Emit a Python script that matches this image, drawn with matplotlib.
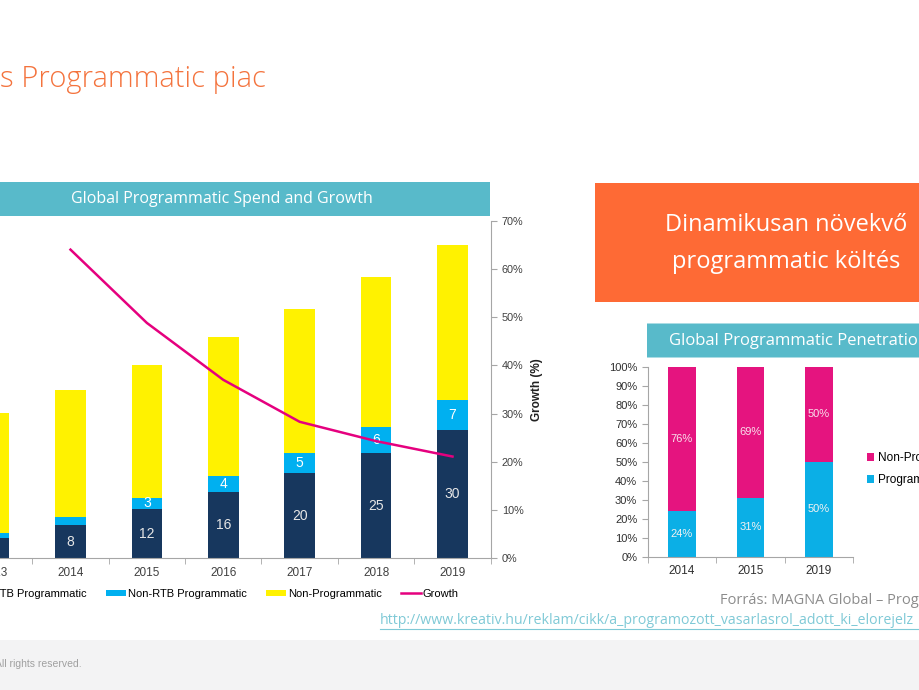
import matplotlib
matplotlib.use("Agg")
import matplotlib.pyplot as plt
from matplotlib.patches import Rectangle
from matplotlib.lines import Line2D
from matplotlib.ticker import PercentFormatter
import numpy as np

# Global Programmatic Spend and Growth (left chart)
years = ["2013", "2014", "2015", "2016", "2017", "2018", "2019"]
rtb = [4.7, 7.9, 11.6, 15.8, 20.1, 25.0, 30.4]
non_rtb = [1.2, 1.8, 2.8, 3.7, 4.9, 6.2, 7.1]
non_prog = [28.5, 30.2, 31.4, 33.0, 34.1, 35.4, 36.7]
growth_years = ["2014", "2015", "2016", "2017", "2018", "2019"]
growth = [64.0, 48.8, 37.0, 28.3, 24.3, 21.1]

# Global Programmatic Penetration (right chart)
pen_years = ["2014", "2015", "2019"]
programmatic = [24, 31, 50]
non_programmatic = [76, 69, 50]

NAVY = "#17375E"
CYAN = "#00B0F0"
YELLOW = "#FFF200"
MAGENTA = "#E5007E"
PINK = "#E5147F"
BLUE = "#0BAFE6"
TEAL = "#58BACA"
ORANGE = "#FE6A35"
GRID = "#A6A6A6"
TXT = "#404040"

W, H = 920, 690


def fx(x):
    return x / W


def fy(y):
    return 1 - y / H


fig = plt.figure(figsize=(9.2, 6.9), dpi=100)
fig.patch.set_facecolor("white")

# page title and boxes
fig.text(fx(0), fy(87), "s Programmatic piac", fontsize=21, color="#F4733D",
         family="Open Sans", fontweight="light", va="baseline", ha="left")

fig.add_artist(Rectangle((fx(0), fy(215.5)), fx(490), 33.5 / H,
                         transform=fig.transFigure, color=TEAL, lw=0))
fig.text(fx(222), fy(199), "Global Programmatic Spend and Growth", fontsize=11.5,
         color="white", family="Open Sans", ha="center", va="center")

fig.add_artist(Rectangle((fx(595), fy(302)), fx(340), 119 / H,
                         transform=fig.transFigure, color=ORANGE, lw=0, snap=False))
fig.text(fx(786), fy(225), "Dinamikusan növekvő", fontsize=17, color="white",
         family="Open Sans", ha="center", va="center")
fig.text(fx(786), fy(262), "programmatic költés", fontsize=17, color="white",
         family="Open Sans", ha="center", va="center")

fig.add_artist(Rectangle((fx(647), fy(357.5)), fx(290), 34 / H,
                         transform=fig.transFigure, color=TEAL, lw=0, snap=False))
fig.text(fx(669), fy(341), "Global Programmatic Penetration", fontsize=12,
         color="white", family="Open Sans", ha="left", va="center")

# footer
fig.add_artist(Rectangle((0, 0), 1, 50 / H, transform=fig.transFigure,
                         color="#F3F3F4", lw=0))
fig.text(fx(-5), fy(664), "All rights reserved.", fontsize=7.5, color="#A0A0A0",
         family="Liberation Sans", ha="left", va="center")

# source text
fig.text(fx(720), fy(600), "Forrás: MAGNA Global – Programmatic", fontsize=10.5,
         color="#8C8C8C", family="Open Sans", ha="left", va="center")
fig.text(fx(380), fy(621), "http://www.kreativ.hu/reklam/cikk/a_programozott_vasarlasrol_adott_ki_elorejelz",
         fontsize=10.2, color="#7FC9D6", family="Open Sans", ha="left", va="center")
fig.add_artist(Line2D([fx(380), fx(925)], [fy(629), fy(629)], transform=fig.transFigure,
                      color="#7FC9D6", lw=0.8))

# ---- left chart ----
ax = fig.add_axes([fx(-44.1), fy(558.3), 534.8 / W, 337.6 / H])
x = np.arange(len(years))
rtb_a = np.array(rtb)
non_rtb_a = np.array(non_rtb)
non_prog_a = np.array(non_prog)
b1 = ax.bar(x, rtb_a, width=0.4, color=NAVY, label="RTB Programmatic")
b2 = ax.bar(x, non_rtb_a, width=0.4, bottom=rtb_a, color=CYAN, label="Non-RTB Programmatic")
b3 = ax.bar(x, non_prog_a, width=0.4, bottom=rtb_a + non_rtb_a, color=YELLOW,
            label="Non-Programmatic")
for i in range(len(years)):
    if rtb_a[i] >= 6:
        ax.text(x[i], rtb_a[i] / 2, f"{rtb_a[i]:.0f}", ha="center", va="center",
                color="#E6E6E6", fontsize=10, family="Liberation Sans")
    if non_rtb_a[i] >= 2.5:
        ax.text(x[i], rtb_a[i] + non_rtb_a[i] / 2, f"{non_rtb_a[i]:.0f}", ha="center",
                va="center", color="white", fontsize=10, family="Liberation Sans")
ax.set_xlim(-0.5, len(years) - 0.5)
ax.set_ylim(0, 80)
ax.set_yticks([])
ax.set_xticks(x)
ax.set_xticklabels(years, fontsize=8.5, color=TXT, family="Liberation Sans")
ax.set_xticks(np.arange(len(years) + 1) - 0.5, minor=True)
ax.tick_params(axis="x", which="major", length=0, pad=6)
ax.tick_params(axis="x", which="minor", length=4, color=GRID, direction="out")
for s in ["top", "left", "right"]:
    ax.spines[s].set_visible(False)
ax.spines["bottom"].set_color(GRID)
ax.set_facecolor("none")

ax2 = ax.twinx()
gx = [years.index(y) for y in growth_years]
(l1,) = ax2.plot(gx, np.array(growth) / 100, color=MAGENTA, lw=1.8, label="Growth")
ax2.set_ylim(0, 0.7)
ax2.set_yticks(np.arange(0, 0.71, 0.1))
ax2.yaxis.set_major_formatter(PercentFormatter(1.0, decimals=0))
ax2.tick_params(axis="y", length=4, color=GRID, labelsize=7.8, labelcolor=TXT, pad=4)
for lab in ax2.get_yticklabels():
    lab.set_family("Liberation Sans")
for s in ["top", "left", "bottom"]:
    ax2.spines[s].set_visible(False)
ax2.spines["right"].set_color(GRID)
ax2.set_ylabel("Growth (%)", fontsize=8.5, fontweight="bold", color="#202020",
               family="Liberation Sans", labelpad=5)

fig.legend(handles=[b1, b2, b3, l1], loc="center left",
           bbox_to_anchor=(fx(-35), fy(594)), ncol=4, frameon=False,
           prop={"family": "Liberation Sans", "size": 8}, handlelength=1.8,
           handleheight=0.5, handletextpad=0.15, columnspacing=1.75, borderpad=0)

# ---- right chart ----
ax3 = fig.add_axes([fx(647.7), fy(556.7), 205.6 / W, 190 / H])
px = np.arange(len(pen_years))
prog_a = np.array(programmatic)
nonp_a = np.array(non_programmatic)
p1 = ax3.bar(px, prog_a, width=0.4, color=BLUE, label="Programmatic")
p2 = ax3.bar(px, nonp_a, width=0.4, bottom=prog_a, color=PINK, label="Non-Programmatic")
for i in range(len(pen_years)):
    ax3.text(px[i], prog_a[i] / 2, f"{prog_a[i]}%", ha="center", va="center",
             color="#F2F2F2", fontsize=8, family="Liberation Sans")
    ax3.text(px[i], prog_a[i] + nonp_a[i] / 2, f"{nonp_a[i]}%", ha="center", va="center",
             color="#F8E0EC", fontsize=8, family="Liberation Sans")
ax3.set_xlim(-0.5, len(pen_years) - 0.5)
ax3.set_ylim(0, 100)
ax3.set_yticks(np.arange(0, 101, 10))
ax3.yaxis.set_major_formatter(PercentFormatter(100, decimals=0))
ax3.set_xticks(px)
ax3.set_xticklabels(pen_years)
ax3.set_xticks(np.arange(len(pen_years) + 1) - 0.5, minor=True)
ax3.tick_params(axis="x", which="major", length=0, pad=6, labelsize=8.5, labelcolor="#303030")
ax3.tick_params(axis="x", which="minor", length=4, color=GRID)
ax3.tick_params(axis="y", length=4, color=GRID, labelsize=8, labelcolor="#303030")
for lab in ax3.get_xticklabels() + ax3.get_yticklabels():
    lab.set_family("Liberation Sans")
for s in ["top", "right"]:
    ax3.spines[s].set_visible(False)
ax3.spines["left"].set_color(GRID)
ax3.spines["bottom"].set_color(GRID)
ax3.set_facecolor("none")

fig.legend(handles=[p2, p1], loc="center left", bbox_to_anchor=(fx(861), fy(469)),
           frameon=False, prop={"family": "Liberation Sans", "size": 8.5},
           handlelength=0.6, handleheight=0.6, handletextpad=0.3, labelspacing=0.85,
           borderpad=0)

fig.savefig("out.png", dpi=100)
